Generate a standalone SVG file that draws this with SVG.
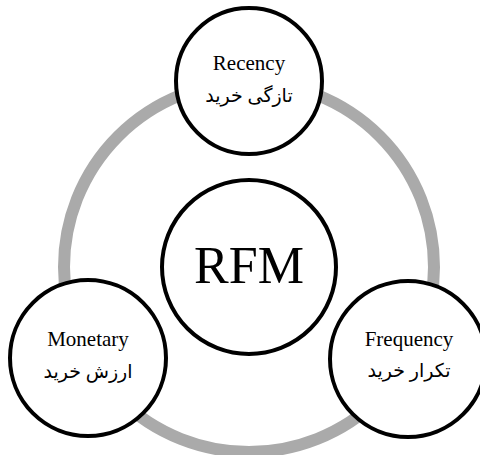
<svg xmlns="http://www.w3.org/2000/svg" width="480" height="455" viewBox="0 0 480 455">
<style>
.node{fill:#fff;stroke:#000;stroke-width:4}
.en{font-family:"Liberation Serif","Times New Roman",serif;font-size:21px;fill:#000;text-anchor:middle}
.fa{font-family:"Liberation Serif","DejaVu Sans","Noto Sans",serif;font-size:19px;fill:#000;text-anchor:middle}
</style>
<g id="connectors">
<circle cx="249" cy="267" r="185" fill="none" stroke="#aaaaaa" stroke-width="12"/>
</g>
<g id="rfm">
<circle class="node" cx="249" cy="267" r="87"/>
<text x="249" y="283" font-family="Liberation Serif,serif" font-size="52" text-anchor="middle">RFM</text>
</g>
<g id="recency">
<circle class="node" cx="249" cy="81" r="73"/>
<text class="en" x="249" y="70">Recency</text>
<text class="fa" x="249" y="102" direction="rtl">تازگی خرید</text>
</g>
<g id="monetary">
<circle class="node" cx="88" cy="358" r="78"/>
<text class="en" x="88" y="346">Monetary</text>
<text class="fa" x="88" y="378" direction="rtl">ارزش خرید</text>
</g>
<g id="frequency">
<circle class="node" cx="408" cy="359" r="78"/>
<text class="en" x="409" y="346">Frequency</text>
<text class="fa" x="409" y="377" direction="rtl">تکرار خرید</text>
</g>
</svg>
